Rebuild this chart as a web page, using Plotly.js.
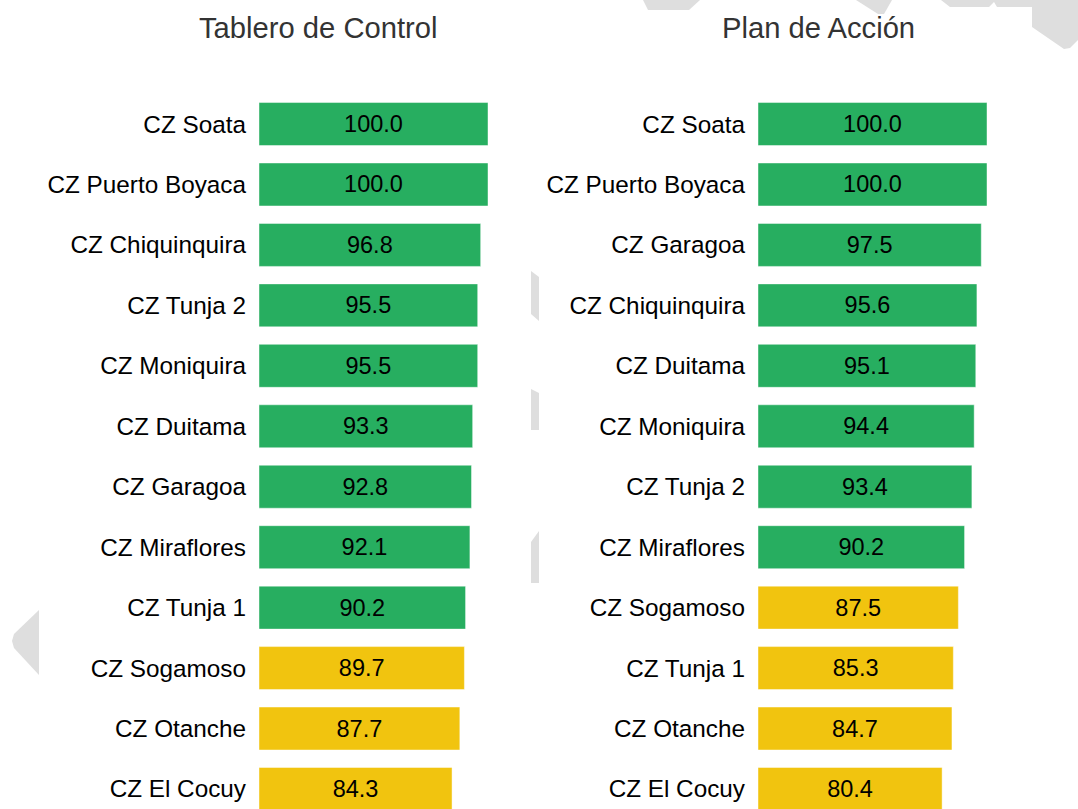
<!DOCTYPE html>
<html>
<head>
<meta charset="utf-8">
<script src="https://cdn.plot.ly/plotly-3.0.1.min.js"></script>
<style>html,body{margin:0;padding:0;background:#fff;}#chart{width:1078px;height:809px;}</style>
</head>
<body>
<div id="chart"></div>
<script>
// ---- data ----
const tableroCats = ["CZ Soata","CZ Puerto Boyaca","CZ Chiquinquira","CZ Tunja 2","CZ Moniquira","CZ Duitama","CZ Garagoa","CZ Miraflores","CZ Tunja 1","CZ Sogamoso","CZ Otanche","CZ El Cocuy"];
const tableroVals = [100.0,100.0,96.8,95.5,95.5,93.3,92.8,92.1,90.2,89.7,87.7,84.3];
const planCats = ["CZ Soata","CZ Puerto Boyaca","CZ Garagoa","CZ Chiquinquira","CZ Duitama","CZ Moniquira","CZ Tunja 2","CZ Miraflores","CZ Sogamoso","CZ Tunja 1","CZ Otanche","CZ El Cocuy"];
const planVals = [100.0,100.0,97.5,95.6,95.1,94.4,93.4,90.2,87.5,85.3,84.7,80.4];
const subplotTitles = ["Tablero de Control","Plan de Acción"];
const threshold = 90;
const GREEN = "#27ae60", YELLOW = "#f1c40f";

const W = 1078, H = 809;
const px = x => x / W;
const py = y => 1 - y / H;
const FONT = "Arial";

function colorsFor(vals){ return vals.map(v => v >= threshold ? GREEN : YELLOW); }

function barTrace(cats, vals, xa, ya){
  return {
    type: "bar", orientation: "h",
    y: cats, x: vals, xaxis: xa, yaxis: ya,
    marker: {color: colorsFor(vals), line: {color: "rgba(255,255,255,0.45)", width: 1}},
    texttemplate: "%{x:.1f}", textposition: "inside", insidetextanchor: "middle",
    textangle: 0,
    insidetextfont: {family: FONT, size: 23.5, color: "#000"},
    hoverinfo: "skip", showlegend: false, cliponaxis: true
  };
}

const data = [
  barTrace(tableroCats, tableroVals, "x", "y"),
  barTrace(planCats, planVals, "x2", "y2")
];

// watermark polygons (pixel coordinates of the background decoration)
const wm = [
  [[643,0],[700,0],[689,10],[648,10]],
  [[856,0],[892,0],[884,14],[878,14]],
  [[941,0],[1078,0],[1078,40],[1070,48],[1064,49],[1032,27],[1032,7],[997,7],[994,2],[989,7],[950,7]],
  [[531,271],[539,277],[539,321],[531,314]],
  [[531,389],[539,393],[539,430],[531,430]],
  [[531,542],[539,531],[539,583],[531,583]],
  [[39,610],[14,634],[12,641],[14,648],[39,675]]
];
const shapes = wm.map(poly => ({
  type: "path", xref: "paper", yref: "paper", layer: "below",
  path: "M" + poly.map(p => px(p[0]).toFixed(5) + "," + py(p[1]).toFixed(5)).join(" L") + " Z",
  fillcolor: "#dedede", line: {width: 0}
}));

const yTop = 93.8, rowH = 60.45, nRows = 12;
const yBottomAll = yTop + rowH * nRows;
const rangeLow = (nRows - 0.5) - (yBottomAll - H) / rowH;

function yAxis(){
  return {
    domain: [0, py(yTop)], type: "category",
    range: [rangeLow, -0.5], showgrid: false, zeroline: false, showline: false,
    ticks: "", ticklabelstandoff: 12,
    tickfont: {family: FONT, size: 24.3, color: "#000"}, fixedrange: true
  };
}
function xAxis(d){
  return {domain: d, range: [0, 100], visible: false, showgrid: false, zeroline: false, fixedrange: true};
}

const layout = {
  width: W, height: H,
  margin: {l: 0, r: 0, t: 0, b: 0, pad: 0},
  paper_bgcolor: "#fff", plot_bgcolor: "rgba(0,0,0,0)",
  bargap: 0.289,
  font: {family: FONT},
  xaxis: xAxis([px(259), px(488)]),
  xaxis2: xAxis([px(758), px(987)]),
  yaxis: Object.assign(yAxis(), {anchor: "x"}),
  yaxis2: Object.assign(yAxis(), {anchor: "x2"}),
  shapes: shapes,
  annotations: [
    {text: subplotTitles[0], xref: "paper", yref: "paper", x: px(318.5), y: py(28), xanchor: "center", yanchor: "middle", showarrow: false, font: {family: FONT, size: 29.2, color: "#333"}},
    {text: subplotTitles[1], xref: "paper", yref: "paper", x: px(818), y: py(28), xanchor: "center", yanchor: "middle", showarrow: false, font: {family: FONT, size: 29.2, color: "#333"}}
  ]
};

Plotly.newPlot("chart", data, layout, {displayModeBar: false, staticPlot: true});
</script>
</body>
</html>
